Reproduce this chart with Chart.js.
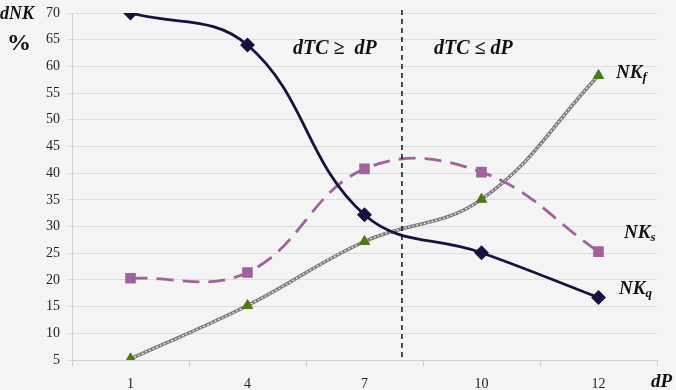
<!DOCTYPE html>
<html>
<head>
<meta charset="utf-8">
<script src="https://cdn.jsdelivr.net/npm/chart.js@4"></script>
<style>
    body { margin: 0; background: #f4f4f4; }
    #wrap { width: 676px; height: 390px; }
</style>
</head>
<body>
<div id="wrap"><canvas id="chart" width="676" height="390"></canvas></div>
<script>
const categories = ['1', '4', '7', '10', '12']
const nkq = [70, 64, 32.2, 25.1, 16.7]
const nks = [20.3, 21.4, 40.8, 40.2, 25.3]
const nkf = [5.2, 15.2, 27.2, 35.1, 58.3]
const yTicks = [5, 10, 15, 20, 25, 30, 35, 40, 45, 50, 55, 60, 65, 70]
// where the regime boundary sits on the category axis (between 7 and 10)
const boundary = 2.32

const serif = '"Liberation Serif", "DejaVu Serif", serif'

const extras = {
    id: 'extras',
    beforeDraw(chart) {
        const c = chart.ctx
        c.save()
        c.fillStyle = '#f4f4f4'
        c.fillRect(0, 0, chart.width, chart.height)
        c.restore()
    },
    afterDatasetsDraw(chart) {
        const c = chart.ctx
        const x = chart.scales.x.getPixelForValue(boundary)
        const area = chart.chartArea
        c.save()
        c.strokeStyle = '#111'
        c.lineWidth = 1.5
        c.setLineDash([5, 4])
        c.beginPath()
        c.moveTo(x, area.top - 3)
        c.lineTo(x, area.bottom)
        c.stroke()
        c.setLineDash([])

        c.fillStyle = '#111'
        c.textBaseline = 'middle'
        c.font = 'bold italic 18px ' + serif
        c.textAlign = 'left'
        c.fillText('dNK', 0, 14)
        c.font = 'bold 24px ' + serif
        c.fillText('%', 7, 44)

        c.font = 'bold italic 20px ' + serif
        c.fillText('dTC \u2265  dP', 293, 49)
        c.fillText('dTC \u2264 dP', 434, 49)

        function sub(main, s, x, y) {
            c.font = 'bold italic 19px ' + serif
            c.fillText(main, x, y)
            const w = c.measureText(main).width
            c.font = 'bold italic 13px ' + serif
            c.fillText(s, x + w, y + 5)
        }
        sub('NK', 'f', 616, 73)
        sub('NK', 's', 624, 233)
        sub('NK', 'q', 619, 289)

        c.font = 'bold italic 19px ' + serif
        c.fillText('dP', 651, 382)
        c.restore()
    }
}

new Chart(document.getElementById('chart').getContext('2d'), {
    type: 'line',
    data: {
        labels: categories,
        datasets: [{
            label: 'NKq',
            data: nkq,
            order: 0,
            borderColor: '#16123f',
            backgroundColor: '#16123f',
            borderWidth: 2.8,
            pointStyle: 'rectRot',
            pointRadius: 5.5,
            tension: 0.4
        }, {
            label: 'NKs',
            data: nks,
            order: 1,
            borderColor: '#a0619c',
            backgroundColor: '#a0619c',
            borderWidth: 2.8,
            borderDash: [17, 9],
            pointStyle: 'rect',
            pointRadius: 5.5,
            tension: 0.4
        }, {
            label: 'NKf',
            data: nkf,
            order: 2,
            showLine: false,
            backgroundColor: '#4b7a1b',
            borderColor: '#4b7a1b',
            pointStyle: 'triangle',
            pointRadius: 6,
            borderWidth: 1
        }, {
            label: 'NKf stripe',
            data: nkf,
            order: 3,
            borderColor: '#f2f2f2',
            borderWidth: 1.2,
            borderDash: [2, 2],
            pointRadius: 0,
            tension: 0.4
        }, {
            label: 'NKf line',
            data: nkf,
            order: 4,
            borderColor: '#7a7a7a',
            borderWidth: 3.5,
            pointRadius: 0,
            tension: 0.4
        }]
    },
    options: {
        responsive: false,
        animation: false,
        layout: { padding: { left: 0, top: 13, right: 19, bottom: 0 } },
        plugins: { legend: { display: false }, tooltip: { enabled: false } },
        scales: {
            x: {
                offset: true,
                grid: { offset: true, drawOnChartArea: false, color: '#cfcfcf', tickLength: 6 },
                border: { color: '#cfcfcf' },
                ticks: { color: '#222', padding: 10, font: { family: serif, size: 14 } },
                afterFit(s) { s.height = 30; s.paddingLeft = 0; s.paddingRight = 0 }
            },
            y: {
                min: 5,
                max: 70,
                afterBuildTicks(s) { s.ticks = yTicks.map(v => ({ value: v })) },
                grid: { color: '#dddddd', tickLength: 4 },
                border: { color: '#d0d0d0' },
                ticks: { color: '#222', padding: 8, font: { family: serif, size: 14 } },
                afterFit(s) { s.width = 72; s.paddingTop = 0; s.paddingBottom = 0 }
            }
        }
    },
    plugins: [extras]
})
</script>
</body>
</html>
